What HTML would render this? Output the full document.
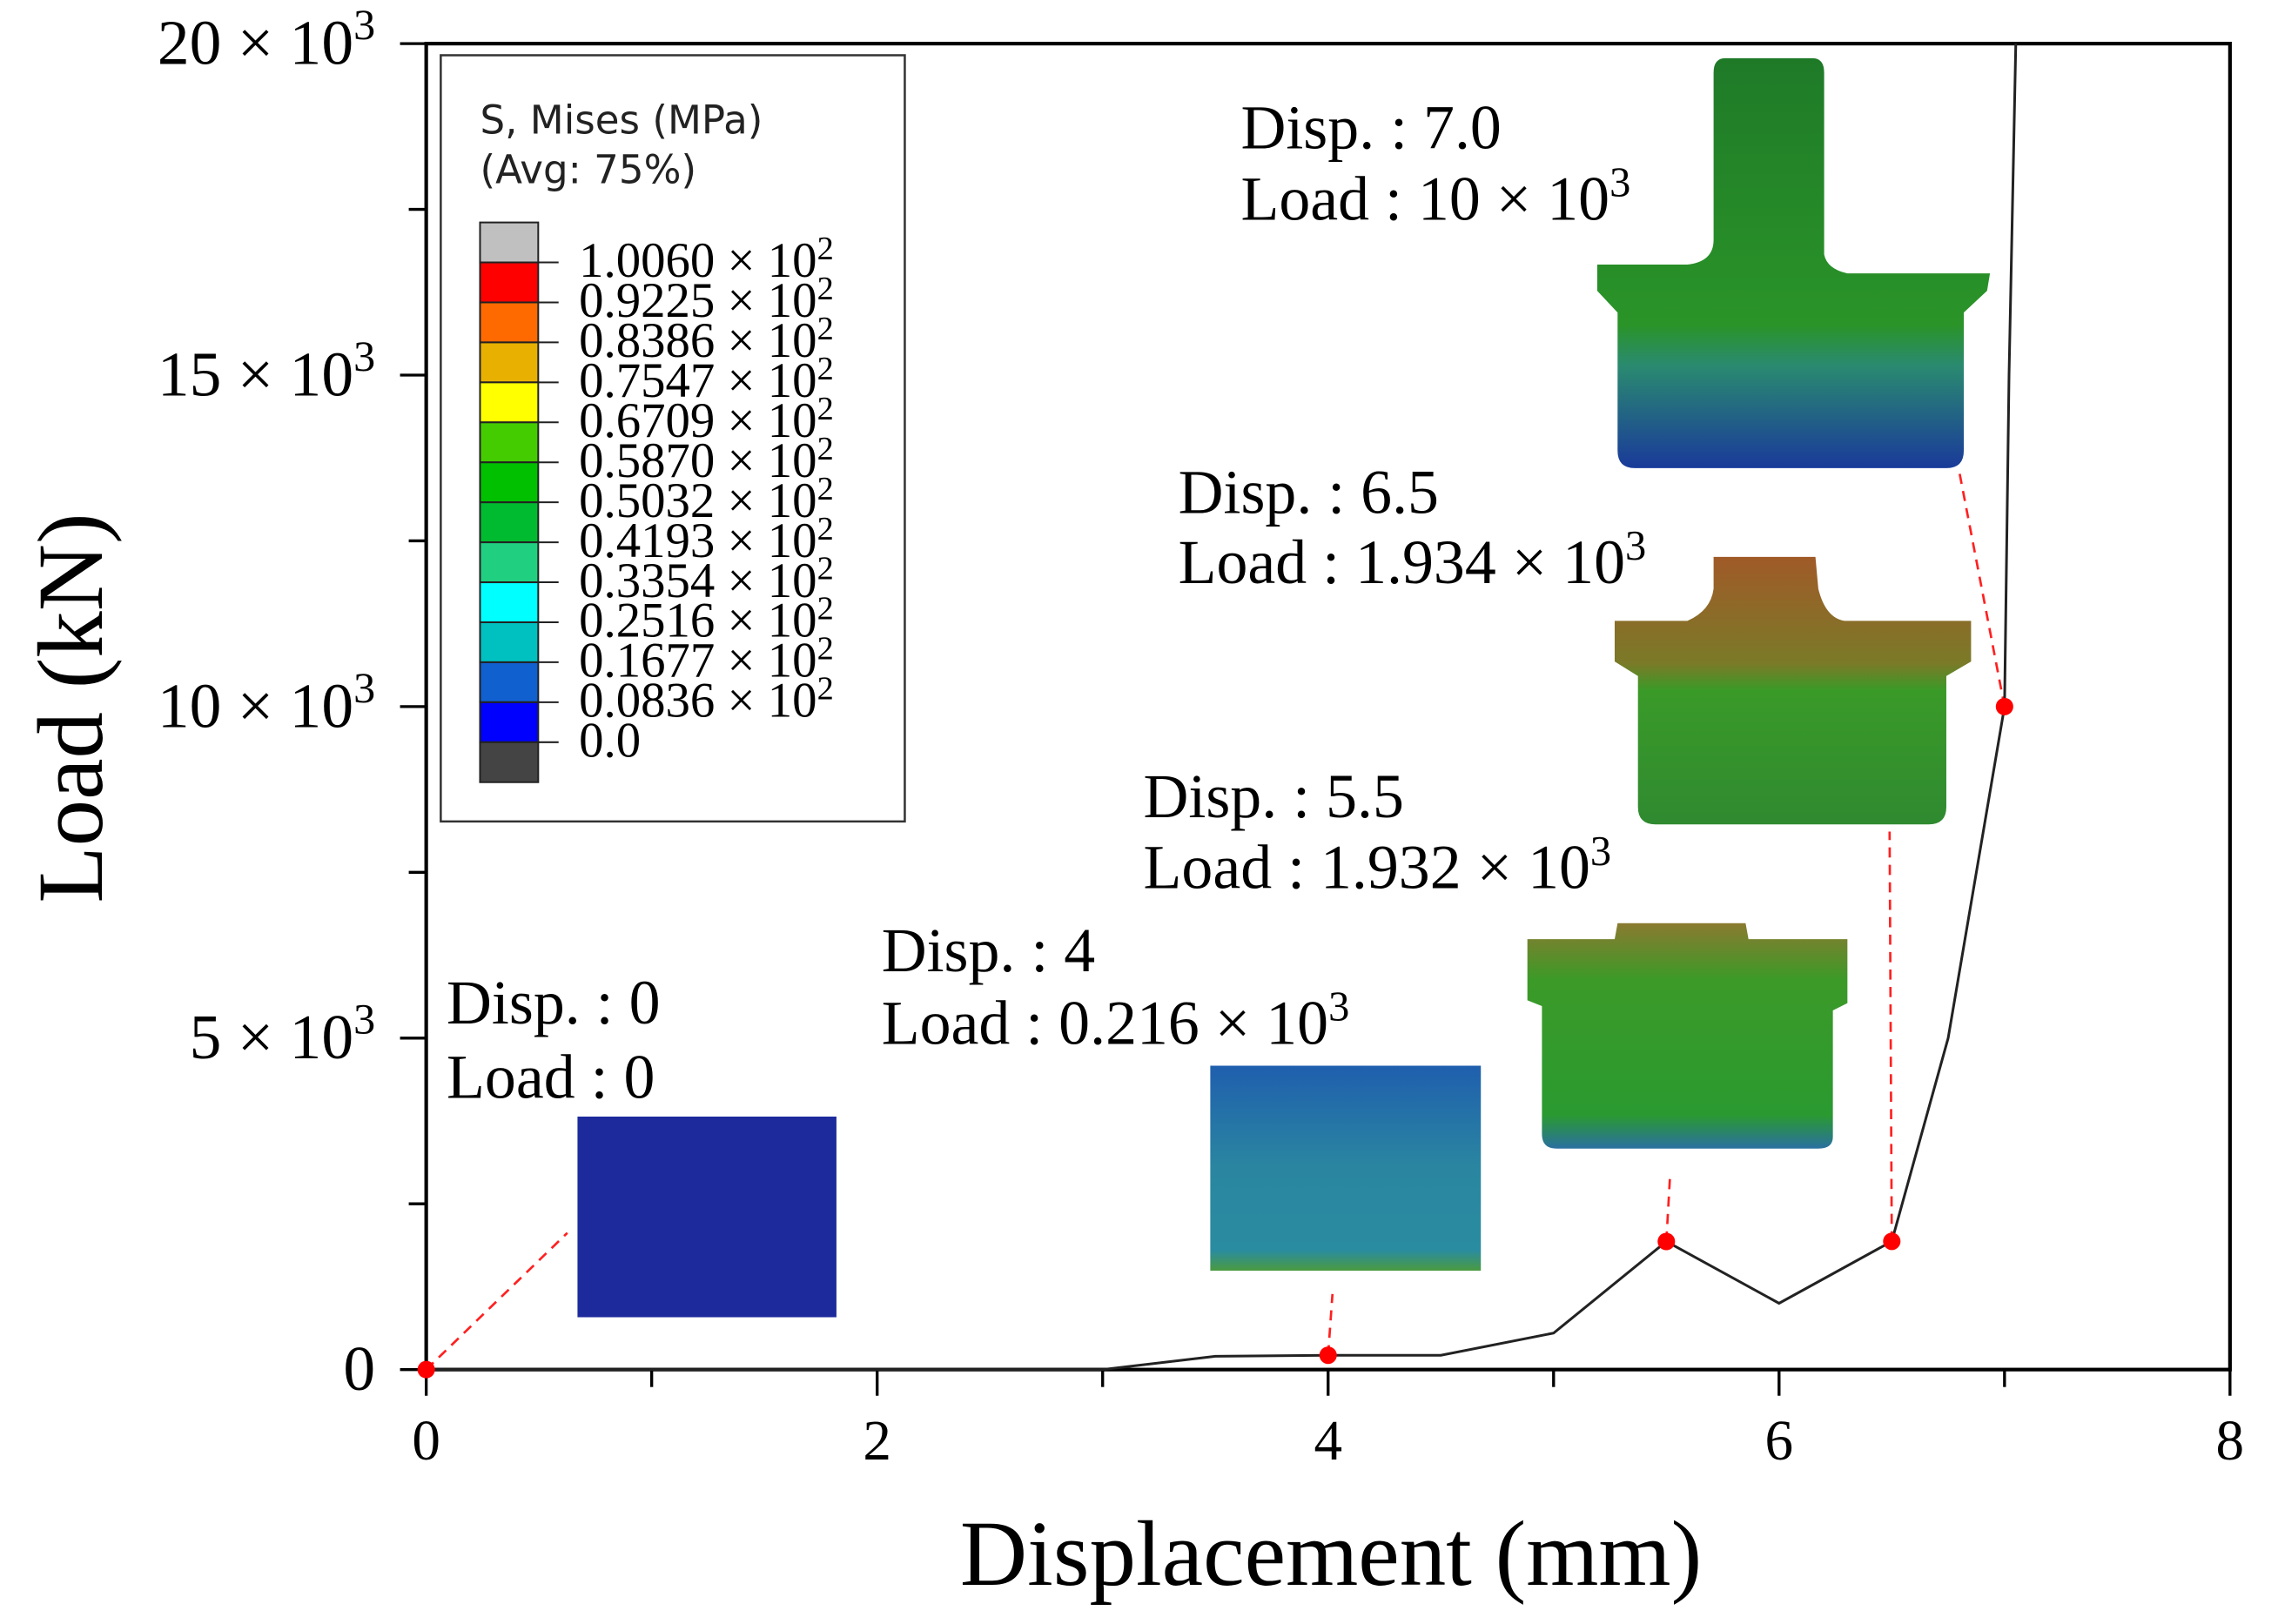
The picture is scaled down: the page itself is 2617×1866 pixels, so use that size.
<!DOCTYPE html>
<html><head><meta charset="utf-8">
<style>
html,body{margin:0;padding:0;background:#fff;}
svg{display:block;}
.t{font-family:"Liberation Serif",serif;fill:#000;}
.s{font-family:"DejaVu Sans","Liberation Sans",sans-serif;fill:#222;}
</style></head>
<body>
<svg id="chart" width="2617" height="1866" viewBox="0 0 1566 1117" preserveAspectRatio="none" xmlns="http://www.w3.org/2000/svg">
<defs>
<linearGradient id="g4" x1="0" y1="0" x2="0" y2="1"><stop offset="0" stop-color="#1f5fae"/><stop offset="0.5" stop-color="#2a86a0"/><stop offset="0.9" stop-color="#2a8ca0"/><stop offset="1" stop-color="#4a9a40"/></linearGradient>
<linearGradient id="g55" x1="0" y1="0" x2="0" y2="1"><stop offset="0" stop-color="#8a7a30"/><stop offset="0.25" stop-color="#3c9a28"/><stop offset="0.85" stop-color="#2a9a30"/><stop offset="1" stop-color="#2a70a0"/></linearGradient>
<linearGradient id="g65" x1="0" y1="0" x2="0" y2="1"><stop offset="0" stop-color="#a05a28"/><stop offset="0.4" stop-color="#7a7a28"/><stop offset="0.5" stop-color="#3a9a28"/><stop offset="1" stop-color="#2f8a30"/></linearGradient>
<linearGradient id="g7" x1="0" y1="0" x2="0" y2="1"><stop offset="0" stop-color="#1f7a28"/><stop offset="0.65" stop-color="#2a9428"/><stop offset="0.75" stop-color="#2a8a70"/><stop offset="1" stop-color="#1a3a9a"/></linearGradient>
</defs>
<g id="legend">
<rect x="303" y="38" width="319" height="527" fill="#fff" stroke="#333" stroke-width="1.5"/>
<text class="s" x="330" y="92" font-size="27">S, Mises (MPa)</text>
<text class="s" x="330" y="126" font-size="27">(Avg: 75%)</text>
<g id="cbar"></g>
</g>
<g id="images">
<rect x="397" y="768" width="178" height="138" fill="#1c2a9c"/>
<rect x="832" y="733" width="186" height="141" fill="url(#g4)"/>
<path d="M1050 646 L1110 646 L1112 635 L1200 635 L1202 646 L1270 646 L1270 690 L1260 695 L1260 782 Q1260 790 1250 790 L1070 790 Q1060 790 1060 780 L1060 692 L1050 688 Z" fill="url(#g55)"/>
<path d="M1178 383 L1248 383 L1250 405 Q1255 425 1268 427 L1355 427 L1355 455 L1338 465 L1338 555 Q1338 567 1326 567 L1138 567 Q1126 567 1126 555 L1126 465 L1110 455 L1110 427 L1160 427 Q1176 420 1178 405 Z" fill="url(#g65)"/>
<path d="M1186 40 L1246 40 Q1254 40 1254 50 L1254 175 Q1256 185 1270 188 L1368 188 L1366 200 L1350 215 L1350 310 Q1350 322 1338 322 L1124 322 Q1112 322 1112 310 L1112 215 L1098 200 L1098 182 L1160 182 Q1178 180 1178 165 L1178 50 Q1178 40 1186 40 Z" fill="url(#g7)"/>
</g>
<g id="axes"></g>
<g id="leaders"></g>
<g id="series"></g>
<g id="annots" class="t" font-size="43">
<text x="307" y="704">Disp. : 0</text><text x="307" y="755">Load : 0</text>
<text x="606" y="668">Disp. : 4</text><text x="606" y="718">Load : 0.216 × 10<tspan dy="-16" font-size="29">3</tspan></text>
<text x="786" y="562">Disp. : 5.5</text><text x="786" y="611">Load : 1.932 × 10<tspan dy="-16" font-size="29">3</tspan></text>
<text x="810" y="353">Disp. : 6.5</text><text x="810" y="401">Load : 1.934 × 10<tspan dy="-16" font-size="29">3</tspan></text>
<text x="853" y="102">Disp. : 7.0</text><text x="853" y="151">Load :  10 × 10<tspan dy="-16" font-size="29">3</tspan></text>
</g>
<text class="t" x="915" y="1090" font-size="64" text-anchor="middle">Displacement (mm)</text>
<text class="t" transform="translate(70,487) rotate(-90)" font-size="64" text-anchor="middle">Load (kN)</text>
</svg>
<script>
const xs = [0, 3.0, 3.5, 4.0, 4.5, 5.0, 5.5, 6.0, 6.5, 6.75, 7.0, 7.02, 7.05];
const ys = [0, 0, 0.2, 0.216, 0.216, 0.55, 1.932, 1.0, 1.934, 5.0, 10.0, 15.0, 20.0];
const markX = [0, 4, 5.5, 6.5, 7.0];
const markY = [0, 0.216, 1.932, 1.934, 10.0];
const xTicks = [0, 2, 4, 6, 8];
const yTicks = [0, 5, 10, 15, 20];
const legendLabels = ["1.0060","0.9225","0.8386","0.7547","0.6709","0.5870","0.5032","0.4193","0.3354","0.2516","0.1677","0.0836","0.0"];
const legendColors = ["#c0c0c0","#ff0000","#ff6a00","#e8b000","#ffff00","#44cc00","#00c000","#00bb30","#20d080","#00ffff","#00c0c0","#1060d0","#0000ff","#444444"];
const NS="http://www.w3.org/2000/svg";
const X0=293,X1=1533,Y0=942,Y1=30;
const sx=v=>X0+(v-0)/(8-0)*(X1-X0);
const sy=v=>Y0-(v-0)/(20-0)*(Y0-Y1);
function mk(tag,attrs,parent){const e=document.createElementNS(NS,tag);for(const k in attrs)e.setAttribute(k,attrs[k]);parent.appendChild(e);return e;}
const axes=document.getElementById('axes');
const frame=mk('rect',{x:X0,y:Y1,width:X1-X0,height:Y0-Y1,fill:'none',stroke:'#000','stroke-width':2.5},axes);


for(let v=0;v<=8;v+=1){const big=v%2===0;const l=mk('line',{x1:sx(v),x2:sx(v),y1:Y0,y2:Y0+(big?18:12),stroke:'#000','stroke-width':2},axes);

}
for(let v=0;v<=20;v+=2.5){const big=v%5===0;const l=mk('line',{x1:X0-(big?18:12),x2:X0,y1:sy(v),y2:sy(v),stroke:'#000','stroke-width':2},axes);

}
xTicks.forEach(v=>{const t=mk('text',{x:sx(v),y:1004,'font-size':39,'text-anchor':'middle',class:'t'},axes);t.textContent=v;

});
yTicks.forEach(v=>{const t=mk('text',{x:X0-35,y:sy(v)+14,'font-size':44,'text-anchor':'end',class:'t'},axes);


if(v===0){t.textContent='0';}else{t.textContent=v+' × 10';const s=mk('tspan',{dy:-17,'font-size':30},t);s.textContent='3';}});
// leaders
const L=document.getElementById('leaders');
[[sx(0),sy(0),390,848],[sx(4),sy(0.216),916,890],[sx(5.5),sy(1.932),1148,810],[sx(6.5),sy(1.934),1299,572],[sx(7),sy(10),1347,325]].forEach(a=>{
const l=mk('line',{x1:a[0],y1:a[1],x2:a[2],y2:a[3],stroke:'#ff2020','stroke-width':1.6,'stroke-dasharray':'7,5'},L);

});
// series
const S=document.getElementById('series');
const p=mk('polyline',{points:xs.map((x,i)=>sx(x)+','+sy(ys[i])).join(' '),fill:'none',stroke:'#222','stroke-width':1.8},S);


markX.forEach((x,i)=>{const c=mk('circle',{cx:sx(x),cy:sy(markY[i]),r:6,fill:'#ff0000'},S);

});
// colorbar
const cb=document.getElementById('cbar');
const bx=330,by=153,bh=(538-153)/legendColors.length;
legendColors.forEach((c,i)=>{const r=mk('rect',{x:bx,y:by+i*bh,width:40,height:bh,fill:c,stroke:'#222','stroke-width':1.2},cb);

});
legendLabels.forEach((lab,i)=>{const y=by+(i+1)*bh;
mk('line',{x1:370,x2:384,y1:y,y2:y,stroke:'#222','stroke-width':1.2},cb);
const t=mk('text',{x:398,y:y+10,'font-size':34,class:'t'},cb);


if(lab==='0.0'){t.textContent=lab;}else{t.textContent=lab+' × 10';const s=mk('tspan',{dy:-12,'font-size':23},t);s.textContent='2';}});
</script>
</body></html>
